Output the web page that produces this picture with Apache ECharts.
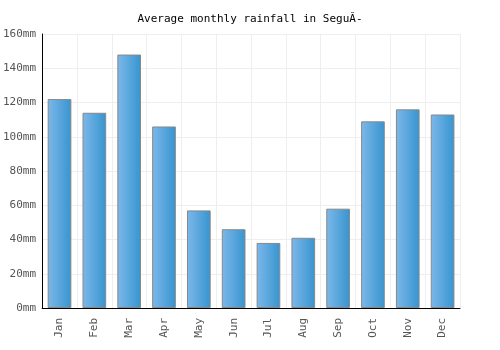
<!DOCTYPE html>
<html>
<head>
<meta charset="utf-8">
<script src="https://cdn.jsdelivr.net/npm/echarts@6/dist/echarts.min.js"></script>
<style>
  html, body { margin: 0; padding: 0; background: #fff; }
  #chart { width: 500px; height: 350px; }
</style>
</head>
<body>
<div id="chart"></div>
<script>
// monthly rainfall (mm)
var months = ['Jan', 'Feb', 'Mar', 'Apr', 'May', 'Jun', 'Jul', 'Aug', 'Sep', 'Oct', 'Nov', 'Dec']
var rainfall = [122, 114, 148, 106, 57, 46, 38, 41, 58, 109, 116, 113]
var yTicks = [0, 20, 40, 60, 80, 100, 120, 140, 160]

var chart = echarts.init(document.getElementById('chart'))
var font = 'DejaVu Sans Mono'

chart.setOption({
  animation: false,
  backgroundColor: '#fff',
  title: {
    text: 'Average monthly rainfall in SeguĂ-',
    left: 'center',
    top: 9,
    textStyle: { fontFamily: font, fontSize: 11, fontWeight: 'normal', color: '#000' }
  },
  grid: { left: 41, right: 40, top: 34, bottom: 42 },
  xAxis: {
    type: 'category',
    data: months,
    axisLine: { lineStyle: { color: '#000', width: 1 } },
    axisTick: { show: false },
    axisLabel: { rotate: 90, color: '#555', fontFamily: font, fontSize: 11, margin: 10 },
    splitLine: { show: true, interval: 0, lineStyle: { color: '#eee' } }
  },
  yAxis: {
    type: 'value',
    min: yTicks[0],
    max: yTicks[yTicks.length - 1],
    interval: 20,
    axisLine: { show: true, lineStyle: { color: '#000', width: 1 } },
    axisTick: { show: false },
    axisLabel: { color: '#555', fontFamily: font, fontSize: 11, margin: 6, formatter: '{value}mm' },
    splitLine: { lineStyle: { color: '#eee' } }
  },
  series: [{
    type: 'bar',
    data: rainfall,
    barWidth: '68%',
    itemStyle: {
      borderColor: '#888',
      borderWidth: 1,
      color: new echarts.graphic.LinearGradient(0, 0, 1, 0, [
        { offset: 0, color: '#7cb8ea' },
        { offset: 1, color: '#3794cf' }
      ])
    }
  }]
})
</script>
</body>
</html>
